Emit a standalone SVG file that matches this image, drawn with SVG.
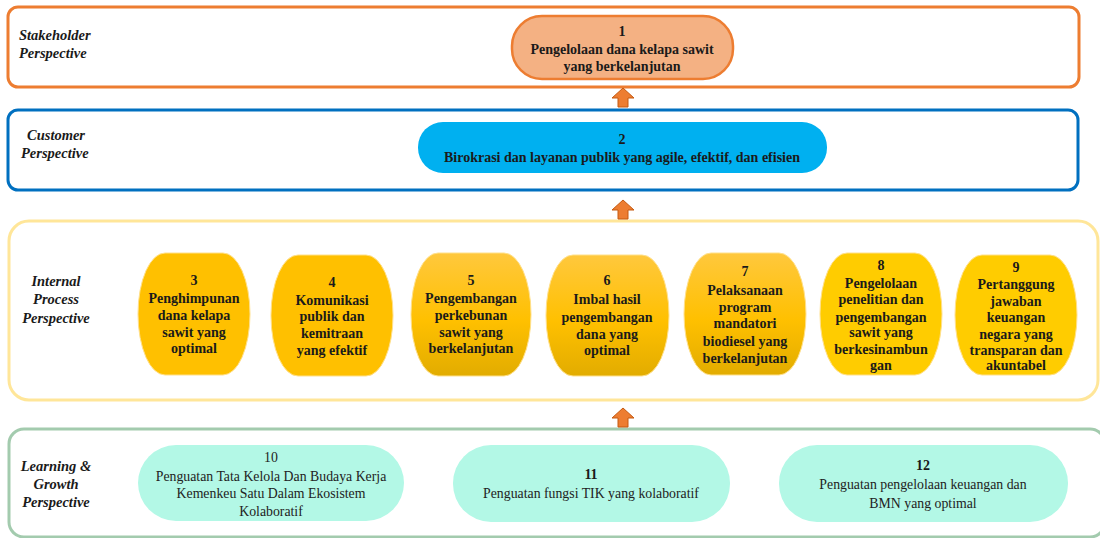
<svg xmlns="http://www.w3.org/2000/svg" width="1100" height="538" viewBox="0 0 1100 538">
<defs>
<linearGradient id="g" x1="0" y1="0" x2="0" y2="1">
<stop offset="0" stop-color="#FFC83D"/>
<stop offset="0.55" stop-color="#FFC000"/>
<stop offset="1" stop-color="#E2AC00"/>
</linearGradient>
<path id="arr" d="M0,-10 L11,0 L5,0 L5,9 L-5,9 L-5,0 L-11,0 Z"/>
</defs>
<style>
.panel{fill:#fff;stroke-width:3}
.lbl{font-family:"Liberation Serif",serif;font-style:italic;font-weight:bold;font-size:14.5px;fill:#1a1a1a}
.t{font-family:"Liberation Serif",serif;font-weight:bold;font-size:14px;fill:#1a1a1a;text-anchor:middle}
.r{font-family:"Liberation Serif",serif;font-size:13.8px;fill:#222;text-anchor:middle}
.ip{stroke:#FFE08A;stroke-width:1}
.lg{fill:#B3F8E6}
.ar{fill:#ED7D31;stroke:#C55A11;stroke-width:1}
</style>
<g id="panels">
<rect class="panel" x="8" y="7" width="1071" height="80" rx="10" stroke="#ED7D31"/>
<rect class="panel" x="8" y="110" width="1070" height="80" rx="10" stroke="#0070C0"/>
<rect class="panel" x="9" y="221" width="1089" height="179" rx="20" stroke="#FFE699"/>
<rect class="panel" x="9" y="429" width="1096" height="108" rx="15" stroke="#A3CBAE"/>
<text class="lbl" x="19" y="40">Stakeholder</text>
<text class="lbl" x="19" y="58">Perspective</text>
<text class="lbl" x="27" y="140">Customer</text>
<text class="lbl" x="21" y="158">Perspective</text>
<text class="lbl" x="56" y="286" text-anchor="middle">Internal</text>
<text class="lbl" x="56" y="304" text-anchor="middle">Process</text>
<text class="lbl" x="56" y="323" text-anchor="middle">Perspective</text>
<text class="lbl" x="56" y="471" text-anchor="middle">Learning &amp;</text>
<text class="lbl" x="56" y="489" text-anchor="middle">Growth</text>
<text class="lbl" x="56" y="507" text-anchor="middle">Perspective</text>
</g>
<g id="connectors">
<use href="#arr" class="ar" transform="translate(623,98)"/>
<use href="#arr" class="ar" transform="translate(623,210)"/>
<use href="#arr" class="ar" transform="translate(623,418)"/>
</g>
<g id="n1">
<rect x="512" y="16" width="221" height="63" rx="30" fill="#F4B183" stroke="#ED7D31" stroke-width="2.5"/>
<text class="t" x="622" y="36">1</text>
<text class="t" x="622" y="54">Pengelolaan dana kelapa sawit</text>
<text class="t" x="622" y="71">yang berkelanjutan</text>
</g>
<g id="n2">
<rect x="418" y="122" width="409" height="51" rx="25" fill="#00B0F0"/>
<text class="t" x="622" y="144">2</text>
<text class="t" x="622" y="162">Birokrasi dan layanan publik yang agile, efektif, dan efisien</text>
</g>
<g id="n3">
<rect class="ip" x="138" y="253" width="112" height="122" rx="27" ry="61" fill="#FFC000"/>
<text class="t" x="194" y="285">3</text>
<text class="t" x="194" y="303">Penghimpunan</text>
<text class="t" x="194" y="320">dana kelapa</text>
<text class="t" x="194" y="337">sawit yang</text>
<text class="t" x="194" y="353">optimal</text>
</g>
<g id="n4">
<rect class="ip" x="271" y="255" width="122" height="121" rx="27" ry="60" fill="#FFC000"/>
<text class="t" x="332" y="287">4</text>
<text class="t" x="332" y="305">Komunikasi</text>
<text class="t" x="332" y="321">publik dan</text>
<text class="t" x="332" y="338">kemitraan</text>
<text class="t" x="332" y="355">yang efektif</text>
</g>
<g id="n5">
<rect class="ip" x="411" y="253" width="120" height="123" rx="27" ry="61" fill="url(#g)"/>
<text class="t" x="471" y="285">5</text>
<text class="t" x="471" y="303">Pengembangan</text>
<text class="t" x="471" y="320">perkebunan</text>
<text class="t" x="471" y="337">sawit yang</text>
<text class="t" x="471" y="353">berkelanjutan</text>
</g>
<g id="n6">
<rect class="ip" x="546" y="255" width="123" height="121" rx="27" ry="60" fill="url(#g)"/>
<text class="t" x="607" y="285" font-weight="normal">6</text>
<text class="t" x="607" y="304">Imbal hasil</text>
<text class="t" x="607" y="322">pengembangan</text>
<text class="t" x="607" y="339">dana yang</text>
<text class="t" x="607" y="355">optimal</text>
</g>
<g id="n7">
<rect class="ip" x="684" y="253" width="122" height="122" rx="27" ry="61" fill="url(#g)"/>
<text class="t" x="745" y="276" font-weight="normal">7</text>
<text class="t" x="745" y="295">Pelaksanaan</text>
<text class="t" x="745" y="312">program</text>
<text class="t" x="745" y="328">mandatori</text>
<text class="t" x="745" y="346">biodiesel yang</text>
<text class="t" x="745" y="363">berkelanjutan</text>
</g>
<g id="n8">
<rect class="ip" x="820" y="253" width="122" height="122" rx="27" ry="61" fill="#FFCC00"/>
<text class="t" x="881" y="270">8</text>
<text class="t" x="881" y="288">Pengelolaan</text>
<text class="t" x="881" y="304">penelitian dan</text>
<text class="t" x="881" y="322">pengembangan</text>
<text class="t" x="881" y="337">sawit yang</text>
<text class="t" x="881" y="354">berkesinambun</text>
<text class="t" x="881" y="370">gan</text>
</g>
<g id="n9">
<rect class="ip" x="955" y="255" width="122" height="120" rx="27" ry="60" fill="#FFCC00"/>
<text class="t" x="1016" y="272" font-weight="normal">9</text>
<text class="t" x="1016" y="289">Pertanggung</text>
<text class="t" x="1016" y="306">jawaban</text>
<text class="t" x="1016" y="322">keuangan</text>
<text class="t" x="1016" y="339">negara yang</text>
<text class="t" x="1016" y="355">transparan dan</text>
<text class="t" x="1016" y="370">akuntabel</text>
</g>
<g id="n10">
<rect class="lg" x="138" y="445" width="266" height="76" rx="38"/>
<text class="r" x="271" y="462" font-family="'Liberation Sans',sans-serif" font-size="12.5">10</text>
<text class="r" x="271" y="481">Penguatan Tata Kelola Dan Budaya Kerja</text>
<text class="r" x="271" y="498">Kemenkeu Satu Dalam Ekosistem</text>
<text class="r" x="271" y="516">Kolaboratif</text>
</g>
<g id="n11">
<rect class="lg" x="453" y="445" width="277" height="77" rx="38"/>
<text class="t" x="591" y="479" font-size="13">11</text>
<text class="r" x="591" y="498">Penguatan fungsi TIK yang kolaboratif</text>
</g>
<g id="n12">
<rect class="lg" x="779" y="445" width="289" height="77" rx="38"/>
<text class="t" x="923" y="470" font-size="13">12</text>
<text class="r" x="923" y="489">Penguatan pengelolaan keuangan dan</text>
<text class="r" x="923" y="508">BMN yang optimal</text>
</g>
</svg>
